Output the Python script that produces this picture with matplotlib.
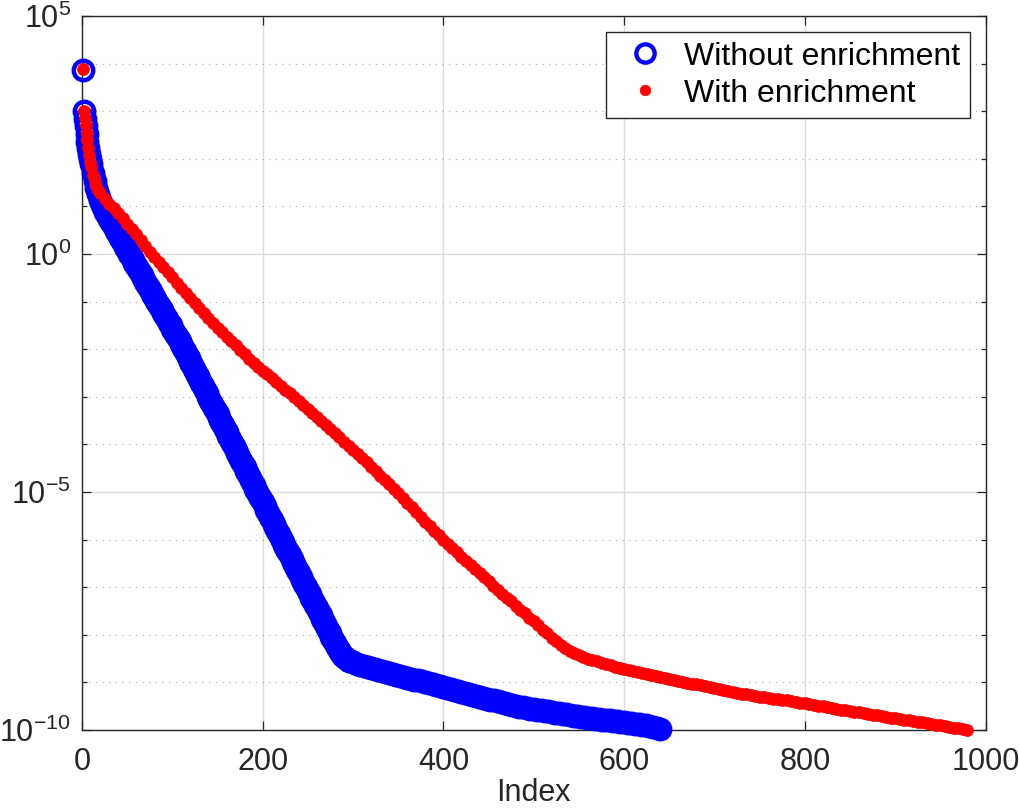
import numpy as np
import matplotlib
matplotlib.use("Agg")
import matplotlib.pyplot as plt
from matplotlib.ticker import FixedLocator, NullFormatter, LogFormatterSciNotation
from matplotlib.lines import Line2D

plt.rcParams['font.family'] = ['Liberation Sans', 'DejaVu Sans']
plt.rcParams['mathtext.default'] = 'regular'

# ---------------- data (log10 of the plotted values) -------------
red_idx = np.r_[1:11, 12:21:2, 25:981:5]
red_log = [
    3.88, 3.00, 2.86, 2.71, 2.55, 2.39, 2.22, 2.07, 1.94, 1.83,
    1.67, 1.54, 1.43, 1.35, 1.29,
    1.16, 1.06, 0.96, 0.86, 0.75, 0.64, 0.53, 0.41, 0.29, 0.17, 0.05, -0.06, -0.17, -0.28, -0.38, -0.49,
    -0.60, -0.71, -0.82, -0.92, -1.03, -1.13, -1.24, -1.34, -1.44, -1.55, -1.64, -1.74, -1.83, -1.92, -2.02, -2.11, -2.20, -2.29, -2.37, -2.45,
    -2.53, -2.61, -2.69, -2.77, -2.85, -2.93, -3.01, -3.09, -3.17, -3.25, -3.33, -3.42, -3.50, -3.59, -3.67, -3.76, -3.85, -3.94, -4.03, -4.11,
    -4.20, -4.29, -4.38, -4.47, -4.56, -4.66, -4.75, -4.84, -4.94, -5.03, -5.13, -5.23, -5.32, -5.42, -5.52, -5.62, -5.71, -5.81, -5.90, -6.00,
    -6.09, -6.18, -6.27, -6.36, -6.44, -6.53, -6.62, -6.71, -6.79, -6.88, -6.97, -7.05, -7.14, -7.22, -7.30, -7.39, -7.47, -7.55, -7.64, -7.72,
    -7.80, -7.89, -7.97, -8.06, -8.14, -8.21, -8.28, -8.34, -8.39, -8.43, -8.47, -8.50, -8.53, -8.56, -8.59, -8.62, -8.64, -8.67, -8.69, -8.72,
    -8.74, -8.76, -8.78, -8.80, -8.82, -8.85, -8.87, -8.89, -8.91, -8.93, -8.95, -8.97, -8.99, -9.01, -9.03, -9.04, -9.06, -9.08, -9.10, -9.12,
    -9.14, -9.16, -9.18, -9.20, -9.22, -9.24, -9.25, -9.27, -9.28, -9.30, -9.31, -9.32, -9.34, -9.35, -9.37, -9.38, -9.40, -9.41, -9.43, -9.44,
    -9.46, -9.47, -9.49, -9.50, -9.52, -9.54, -9.55, -9.57, -9.58, -9.60, -9.62, -9.63, -9.65, -9.66, -9.68, -9.69, -9.71, -9.72, -9.74, -9.75,
    -9.77, -9.78, -9.80, -9.81, -9.83, -9.84, -9.86, -9.87, -9.89, -9.90, -9.92, -9.93, -9.95, -9.96, -9.98, -9.99,
]

blue_idx = np.r_[1:11, 12:301:2, 304:641:4]
blue_log = [
    3.87, 3.00, 2.84, 2.68, 2.52, 2.36, 2.22, 2.11, 2.00, 1.89,
    1.70, 1.53, 1.39, 1.26, 1.14, 1.03, 0.95, 0.88, 0.81, 0.74,
    0.67, 0.61, 0.54, 0.48, 0.41, 0.34, 0.28, 0.21, 0.15, 0.08, 0.01, -0.05, -0.12, -0.18, -0.25, -0.32,
    -0.38, -0.45, -0.51, -0.58, -0.65, -0.71, -0.78, -0.84, -0.91, -0.98, -1.04, -1.11, -1.17, -1.24, -1.31,
    -1.37, -1.44, -1.50, -1.57, -1.64, -1.70, -1.77, -1.83, -1.90, -1.97,
    -2.04, -2.12, -2.19, -2.27, -2.34, -2.41, -2.49, -2.56, -2.63, -2.71,
    -2.78, -2.86, -2.93, -3.00, -3.08, -3.15, -3.23, -3.30, -3.37, -3.45,
    -3.52, -3.60, -3.67, -3.74, -3.82, -3.89, -3.97, -4.04, -4.11, -4.19,
    -4.26, -4.34, -4.41, -4.48, -4.56, -4.63, -4.71, -4.78, -4.85, -4.93,
    -5.00, -5.08, -5.15, -5.22, -5.30, -5.37, -5.45, -5.52, -5.59, -5.67,
    -5.74, -5.82, -5.89, -5.96, -6.04, -6.11, -6.19, -6.26, -6.33, -6.41,
    -6.48, -6.56, -6.63, -6.70, -6.78, -6.85, -6.93, -7.00, -7.07, -7.15,
    -7.22, -7.30, -7.37, -7.44, -7.52, -7.59, -7.67, -7.74, -7.81, -7.89,
    -7.96, -8.04, -8.11, -8.18, -8.25, -8.31, -8.37, -8.42, -8.46, -8.49,
    -8.52, -8.54, -8.56, -8.58,
    -8.61, -8.64, -8.66, -8.68, -8.70, -8.72, -8.74, -8.76, -8.78, -8.80,
    -8.82, -8.84, -8.86, -8.88, -8.90, -8.92, -8.94, -8.96, -8.98, -9.00,
    -9.02, -9.04, -9.06, -9.08, -9.10, -9.12, -9.14, -9.16, -9.18, -9.20,
    -9.22, -9.24, -9.26, -9.28, -9.30, -9.32, -9.34, -9.36, -9.38, -9.40,
    -9.42, -9.44, -9.46, -9.48, -9.50, -9.51, -9.52, -9.54, -9.55, -9.56,
    -9.57, -9.59, -9.60, -9.61, -9.62, -9.64, -9.65, -9.66, -9.67, -9.69,
    -9.70, -9.71, -9.72, -9.73, -9.74, -9.75, -9.76, -9.77, -9.78, -9.79,
    -9.80, -9.81, -9.82, -9.83, -9.84, -9.85, -9.86, -9.87, -9.88, -9.89,
    -9.90, -9.91, -9.93, -9.95, -9.97,
]

labels = ['Without enrichment', 'With enrichment']
x_ticks = [0, 200, 400, 600, 800, 1000]
y_major = [1e-10, 1e-5, 1e0, 1e5]

assert len(red_idx) == len(red_log)
assert len(blue_idx) == len(blue_log)
red_vals = 10.0 ** np.array(red_log)
blue_vals = 10.0 ** np.array(blue_log)

# ---------------- figure -------------
TXT = '#262626'
BLUE_STYLE = dict(linestyle='none', marker='o', markerfacecolor='none',
                  markeredgecolor=(0, 0, 1), markersize=14.0, markeredgewidth=3.2)
RED_STYLE = dict(linestyle='none', marker='o', markerfacecolor=(1, 0, 0),
                 markeredgecolor=(1, 0, 0), markersize=8.6, markeredgewidth=0.5)

fig = plt.figure(figsize=(10.19, 8.10), dpi=100)
ax = fig.add_axes([82 / 1019, 80 / 810, 903.5 / 1019, 714 / 810])
ax.set_yscale('log')

ax.plot(blue_idx, blue_vals, clip_on=False, zorder=3, **BLUE_STYLE)
ax.plot(red_idx, red_vals, clip_on=False, zorder=4, **RED_STYLE)

ax.set_xlim(0, 1000)
ax.set_ylim(1e-10, 1e5)
ax.set_xticks(x_ticks)
ax.yaxis.set_major_locator(FixedLocator(y_major))
ax.yaxis.set_major_formatter(LogFormatterSciNotation())
ax.yaxis.set_minor_locator(FixedLocator([10.0 ** k for k in range(-9, 5) if k % 5]))
ax.yaxis.set_minor_formatter(NullFormatter())

ax.set_axisbelow(True)
ax.grid(True, which='major', color='#dcdcdc', linewidth=1.0, linestyle='-')
ax.grid(True, which='minor', axis='y', color='#a8a8a8', linewidth=0.8, linestyle=(0, (1, 5)))

ax.tick_params(which='both', direction='in', top=True, right=True, color=TXT,
               labelcolor=TXT, labelsize=22)
ax.tick_params(which='major', length=6.5, width=0.9)
ax.tick_params(which='minor', length=3.6, width=0.9)
ax.tick_params(axis='x', pad=12)
ax.tick_params(axis='y', pad=8)
for sp in ax.spines.values():
    sp.set_color(TXT)
    sp.set_linewidth(1.0)

ax.set_xlabel('Index', fontsize=22, color=TXT, labelpad=1)

LEG_BLUE = dict(BLUE_STYLE, markersize=13.2, markeredgewidth=3.1)
LEG_RED = dict(RED_STYLE, markersize=7.6)
handles = [Line2D([], [], **LEG_BLUE), Line2D([], [], **LEG_RED)]
leg = ax.legend(handles, labels, loc='upper right', fontsize=23, frameon=True,
                fancybox=False, framealpha=1, edgecolor=TXT, borderpad=0.3,
                handlelength=1.9, handletextpad=0.25, labelspacing=0.22,
                borderaxespad=0.5)
leg.get_frame().set_linewidth(1.0)

fig.savefig('out.png', dpi=100)
